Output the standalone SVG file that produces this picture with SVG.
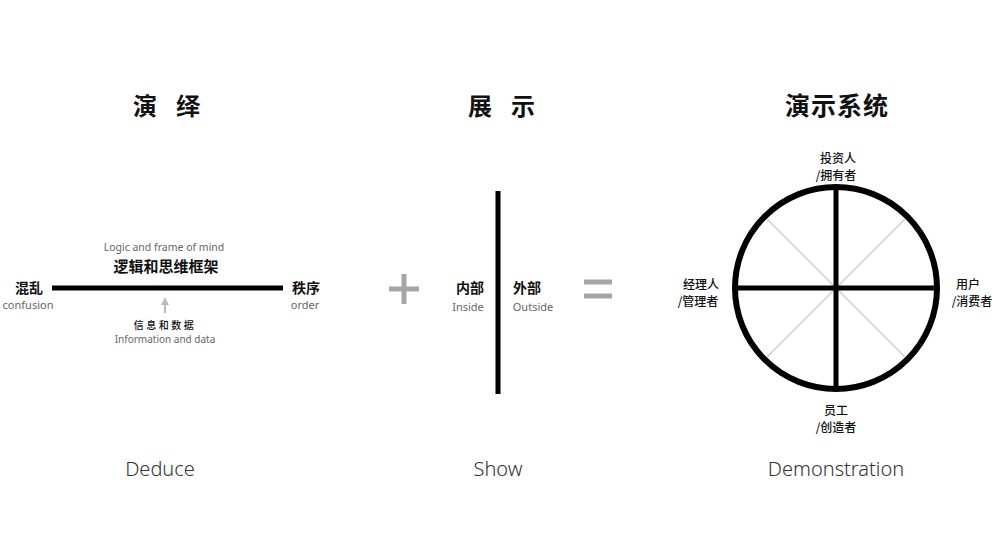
<svg xmlns="http://www.w3.org/2000/svg" width="1000" height="550" viewBox="0 0 1000 550">
<defs>
<style>
.title{font-family:"Noto Sans CJK SC","Noto Sans",sans-serif;font-size:24px;font-weight:700;fill:#111}
.cn{font-family:"Noto Sans CJK SC",sans-serif;font-size:14px;font-weight:700;fill:#111;text-anchor:middle}
.cnl{font-family:"Noto Sans CJK SC",sans-serif;font-size:12px;font-weight:500;fill:#111;text-anchor:middle}
.en{font-family:"Noto Sans","Liberation Sans",sans-serif;font-size:11px;fill:#666;text-anchor:middle}
.cap{font-family:"Noto Sans","Liberation Sans",sans-serif;font-size:20px;font-weight:300;fill:#333;text-anchor:middle}
.thick{stroke:#000;stroke-width:5;fill:none}
.gray{stroke:#a6a6a6;stroke-width:5}
.thin{stroke:#ccc;stroke-width:1.3}
</style>
<marker id="ah" viewBox="0 0 10 10" refX="5" refY="5" markerWidth="4" markerHeight="4" orient="auto"><path d="M0,0 L10,5 L0,10 z" fill="#bbb"/></marker>
</defs>
<rect width="1000" height="550" fill="#fff"/>
<g id="titles">
<text class="title" x="133" y="115">演</text>
<text class="title" x="176" y="115">绎</text>
<text class="title" x="468" y="115">展</text>
<text class="title" x="511" y="115">示</text>
<text class="title" x="785" y="115" style="font-size:25px;letter-spacing:1px">演示系统</text>
</g>
<g id="captions">
<text class="cap" x="160" y="476">Deduce</text>
<text class="cap" x="498" y="476">Show</text>
<text class="cap" x="836" y="476">Demonstration</text>
</g>
<g id="connectors">
<line class="thick" x1="52" y1="288" x2="283" y2="288"/>
<line x1="165" y1="313" x2="165" y2="301" stroke="#bbb" stroke-width="2" marker-end="url(#ah)"/>
<line class="thick" x1="498" y1="191" x2="498" y2="394"/>
<line class="gray" x1="389" y1="289" x2="419" y2="289"/>
<line class="gray" x1="404" y1="274" x2="404" y2="304"/>
<line class="gray" x1="584" y1="282" x2="612" y2="282"/>
<line class="gray" x1="584" y1="296" x2="612" y2="296"/>
</g>
<g id="deduce">
<text class="cn" x="29" y="293">混乱</text>
<text class="en" x="28" y="309">confusion</text>
<text class="cn" x="306" y="293">秩序</text>
<text class="en" x="305" y="309">order</text>
<text class="en" x="164" y="251" style="font-size:10.5px">Logic and frame of mind</text>
<text class="cn" x="166" y="272" style="font-size:15px">逻辑和思维框架</text>
<text class="cnl" x="165" y="329" style="font-size:10px;letter-spacing:2.5px">信息和数据</text>
<text class="en" x="165" y="343" style="font-size:10px">Information and data</text>
</g>
<g id="show">
<text class="cn" x="470" y="293">内部</text>
<text class="en" x="468" y="311">Inside</text>
<text class="cn" x="527" y="293">外部</text>
<text class="en" x="533" y="311">Outside</text>
</g>
<g id="system">
<line class="thin" x1="764.5" y1="216.5" x2="907.5" y2="359.5"/>
<line class="thin" x1="907.5" y1="216.5" x2="764.5" y2="359.5"/>
<line stroke="#000" stroke-width="5" x1="735" y1="288" x2="937" y2="288"/>
<line stroke="#000" stroke-width="5" x1="836" y1="187" x2="836" y2="389"/>
<circle cx="836" cy="288" r="101" stroke="#000" stroke-width="6" fill="none"/>
<text class="cnl" x="838" y="163">投资人</text>
<text class="cnl" x="836" y="180">/拥有者</text>
<text class="cnl" x="701" y="289">经理人</text>
<text class="cnl" x="698" y="306">/管理者</text>
<text class="cnl" x="968" y="289">用户</text>
<text class="cnl" x="972" y="306">/消费者</text>
<text class="cnl" x="836" y="415">员工</text>
<text class="cnl" x="836" y="432">/创造者</text>
</g>
</svg>
